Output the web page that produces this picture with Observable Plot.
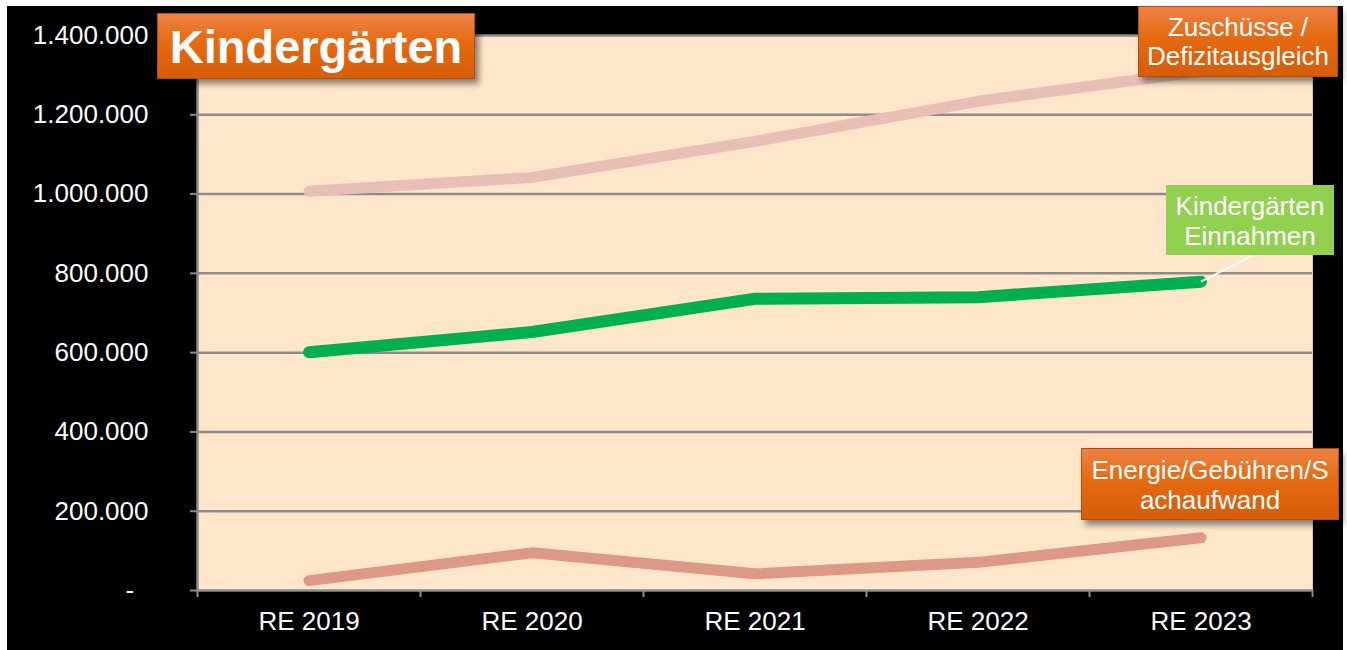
<!DOCTYPE html>
<html>
<head>
<meta charset="utf-8">
<script src="https://cdn.jsdelivr.net/npm/d3@7"></script>
<script src="https://cdn.jsdelivr.net/npm/@observablehq/plot@0.6"></script>
<style>
  html, body { margin: 0; padding: 0; background: #ffffff; width: 1347px; height: 650px; overflow: hidden; }
  #bg { position: absolute; left: 7px; top: 6px; width: 1336px; height: 644px; background: #000; }
  #chart { position: absolute; left: 0; top: 0; }
  .box { position: absolute; color: #fff; font-family: "Liberation Sans", Arial, sans-serif; text-align: center; box-sizing: border-box; }
  .orange { background: linear-gradient(#ee8244, #e5690f 45%, #d65d0a); border: 1px solid #b44f0a; box-shadow: 4px 5px 6px rgba(0,0,0,0.45); }
  #title { left: 157px; top: 13px; width: 318px; height: 66px; font-weight: bold; font-size: 47px; line-height: 66px; }
  #lab1 { left: 1138px; top: 6px; width: 200px; height: 71px; font-size: 26px; line-height: 29px; padding-top: 6px; }
  #lab2 { left: 1166px; top: 185px; width: 168px; height: 70px; font-size: 26px; line-height: 30px; padding-top: 6px; background: #92d050; }
  #lab3 { left: 1081px; top: 448px; width: 258px; height: 72px; font-size: 26px; line-height: 30px; padding-top: 6px; }
</style>
</head>
<body>
<div id="bg"></div>
<div id="chart"></div>
<div class="box orange" id="title">Kindergärten</div>
<div class="box orange" id="lab1">Zuschüsse /<br>Defizitausgleich</div>
<div class="box" id="lab2">Kindergärten<br>Einnahmen</div>
<div class="box orange" id="lab3">Energie/Gebühren/S<br>achaufwand</div>
<script>
const years = ["RE 2019", "RE 2020", "RE 2021", "RE 2022", "RE 2023"];
const zuschuesse = [1007000, 1042000, 1133000, 1234000, 1310000];
const einnahmen = [601000, 652000, 736000, 740000, 779000];
const energie = [25000, 95000, 42000, 71000, 133000];
const yTicks = [0, 200000, 400000, 600000, 800000, 1000000, 1200000, 1400000];
// leader line of the "Kindergärten Einnahmen" label (from last point to label)
const leader = [{x1: 4, y1: einnahmen[4], x2: 4.23, y2: 845000}];

const de = d3.formatLocale({decimal: ",", thousands: ".", grouping: [3], currency: ["", " €"]});
const fmt = de.format(",.0f");
const idx = years.map((d, i) => i);
const bounds = d3.range(-0.5, years.length, 1);
const grid = "#8c8c8c";

const plot = Plot.plot({
  width: 1347,
  height: 650,
  marginLeft: 197,
  marginRight: 35,
  marginTop: 35,
  marginBottom: 60,
  style: {background: "transparent", fontFamily: "'Liberation Sans', Arial, sans-serif", fontSize: "26px", color: "#fff"},
  x: {type: "linear", domain: [-0.5, years.length - 0.5]},
  y: {domain: [0, 1400000]},
  marks: [
    Plot.frame({fill: "#fde6ca", stroke: null}),
    Plot.ruleX([years.length - 0.5], {stroke: "#d4cabd", strokeWidth: 1}),
    Plot.ruleY(yTicks.filter(d => d > 0), {stroke: grid, strokeWidth: 2.5}),
    Plot.ruleX([-0.5], {stroke: grid, strokeWidth: 2.5}),
    Plot.ruleY([0], {stroke: grid, strokeWidth: 2.5}),
    Plot.axisY({ticks: yTicks, tickSize: 7, tickPadding: 42, stroke: grid, strokeWidth: 2, fill: "#fff",
      tickFormat: d => d === 0 ? "-\u00A0\u00A0" : fmt(d)}),
    Plot.axisX({ticks: bounds, tickSize: 7, stroke: grid, strokeWidth: 2, tickFormat: () => ""}),
    Plot.axisX({ticks: idx, tickSize: 0, tickPadding: 21, fill: "#fff", tickFormat: i => years[i]}),
    Plot.line(zuschuesse, {x: (d, i) => i, y: d => d, stroke: "#e8bfb6", strokeWidth: 11, strokeLinecap: "round", strokeLinejoin: "round"}),
    Plot.line(einnahmen, {x: (d, i) => i, y: d => d, stroke: "#00b050", strokeWidth: 12, strokeLinecap: "round", strokeLinejoin: "round"}),
    Plot.line(energie, {x: (d, i) => i, y: d => d, stroke: "#dd9985", strokeWidth: 11, strokeLinecap: "round", strokeLinejoin: "round"}),
    Plot.link(leader, {x1: "x1", y1: "y1", x2: "x2", y2: "y2", stroke: "#fff", strokeWidth: 2})
  ]
});
document.getElementById("chart").appendChild(plot);
</script>
</body>
</html>
